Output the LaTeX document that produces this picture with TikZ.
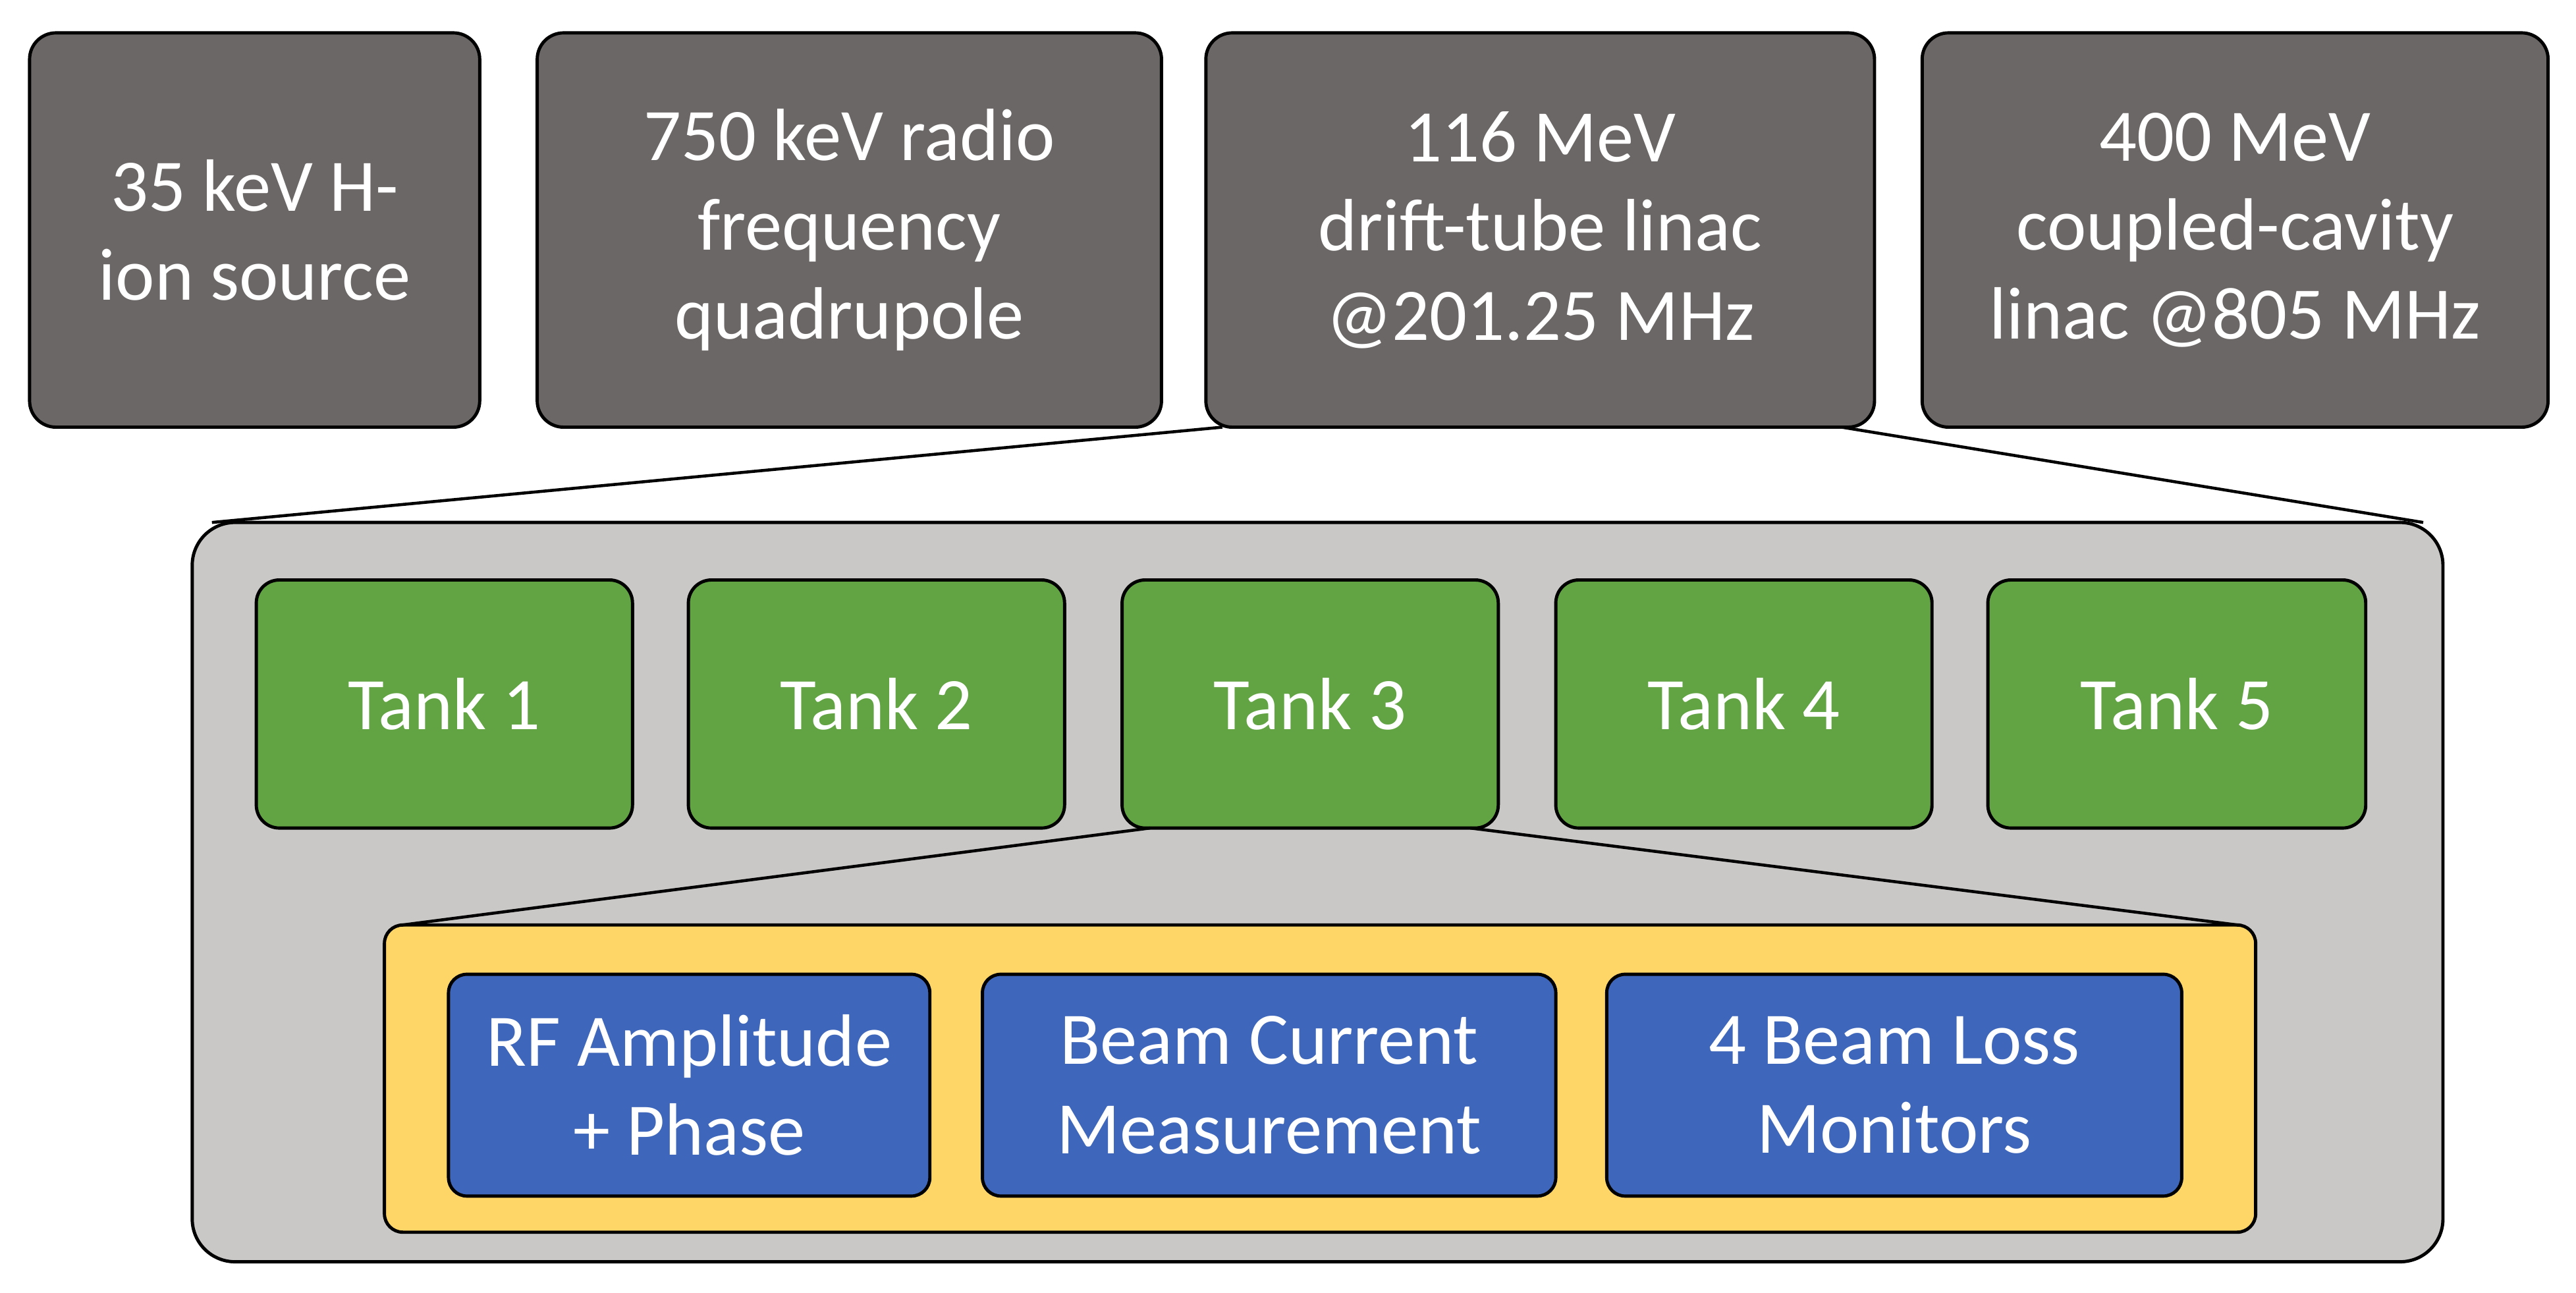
\documentclass[tikz,border=0pt]{standalone}
\usepackage{fontspec}
\setmainfont{Carlito}
\usetikzlibrary{fit,calc}
\definecolor{topgray}{HTML}{6B6766}
\definecolor{outergray}{HTML}{C9C8C7}
\definecolor{tankgreen}{HTML}{62A443}
\definecolor{groupyellow}{HTML}{FED567}
\definecolor{measblue}{HTML}{3E66BA}
\tikzset{
  every node/.style={inner sep=0pt, outer sep=0pt},
  lbl/.style={text=white, align=center, font=\fontsize{32}{38.5}\selectfont},
  topbox/.style={draw=black, line width=1.4pt, fill=topgray, rounded corners=0.4cm, lbl},
  outerbox/.style={draw=black, line width=1.4pt, fill=outergray, rounded corners=0.65cm},
  tankbox/.style={draw=black, line width=1.4pt, fill=tankgreen, rounded corners=0.35cm, lbl},
  yellowbox/.style={draw=black, line width=1.4pt, fill=groupyellow, rounded corners=0.28cm},
  bluebox/.style={draw=black, line width=1.4pt, fill=measblue, rounded corners=0.28cm, lbl},
  zoomline/.style={draw=black, line width=1.3pt}
}
\begin{document}
\begin{tikzpicture}[x=0.02494cm, y=-0.02494cm]
\useasboundingbox (0,0) rectangle (1568,787);
% top row
\node[topbox, fit={(18,20)(292,260)}] (b1) {};
\node[lbl] at (b1.center) {35 keV H-\\ion source};
\node[topbox, fit={(327,20)(707,260)}] (b2) {};
\node[lbl] at (b2.center) {750 keV radio\\frequency\\quadrupole};
\node[topbox, fit={(734,20)(1141,260)}] (b3) {};
\node[lbl] at (b3.center) {116 MeV\\drift-tube linac\\@201.25 MHz};
\node[topbox, fit={(1170,20)(1551,260)}] (b4) {};
\node[lbl] at (b4.center) {400 MeV\\coupled-cavity\\linac @805 MHz};
% outer
\node[outerbox, fit={(117,318)(1487,768)}] (outer) {};
\draw[zoomline] ($(b3.south west)+(10,0)$) -- ($(outer.north west)+(12,0)$);
\draw[zoomline] ($(b3.south east)+(-20,0)$) -- ($(outer.north east)+(-12,0)$);
% tanks
\node[tankbox, fit={(156,353)(385,504)}] (t1) {};
\node[lbl] at (t1.center) {Tank 1};
\node[tankbox, fit={(419,353)(648,504)}] (t2) {};
\node[lbl] at (t2.center) {Tank 2};
\node[tankbox, fit={(683,353)(912,504)}] (t3) {};
\node[lbl] at (t3.center) {Tank 3};
\node[tankbox, fit={(947,353)(1176,504)}] (t4) {};
\node[lbl] at (t4.center) {Tank 4};
\node[tankbox, fit={(1210,353)(1440,504)}] (t5) {};
\node[lbl] at (t5.center) {Tank 5};
% yellow group
\node[yellowbox, fit={(234,563)(1373,750)}] (grp) {};
\draw[zoomline] ($(t3.south west)+(17,0)$) -- ($(grp.north west)+(11,0)$);
\draw[zoomline] ($(t3.south east)+(-17,0)$) -- ($(grp.north east)+(-11,0)$);
% blue
\node[bluebox, fit={(273,593)(566,728)}] (m1) {};
\node[lbl] at (m1.center) {RF Amplitude\\+ Phase};
\node[bluebox, fit={(598,593)(947,728)}] (m2) {};
\node[lbl] at (m2.center) {Beam Current\\Measurement};
\node[bluebox, fit={(978,593)(1328,728)}] (m3) {};
\node[lbl] at (m3.center) {4 Beam Loss\\Monitors};
\end{tikzpicture}
\end{document}
